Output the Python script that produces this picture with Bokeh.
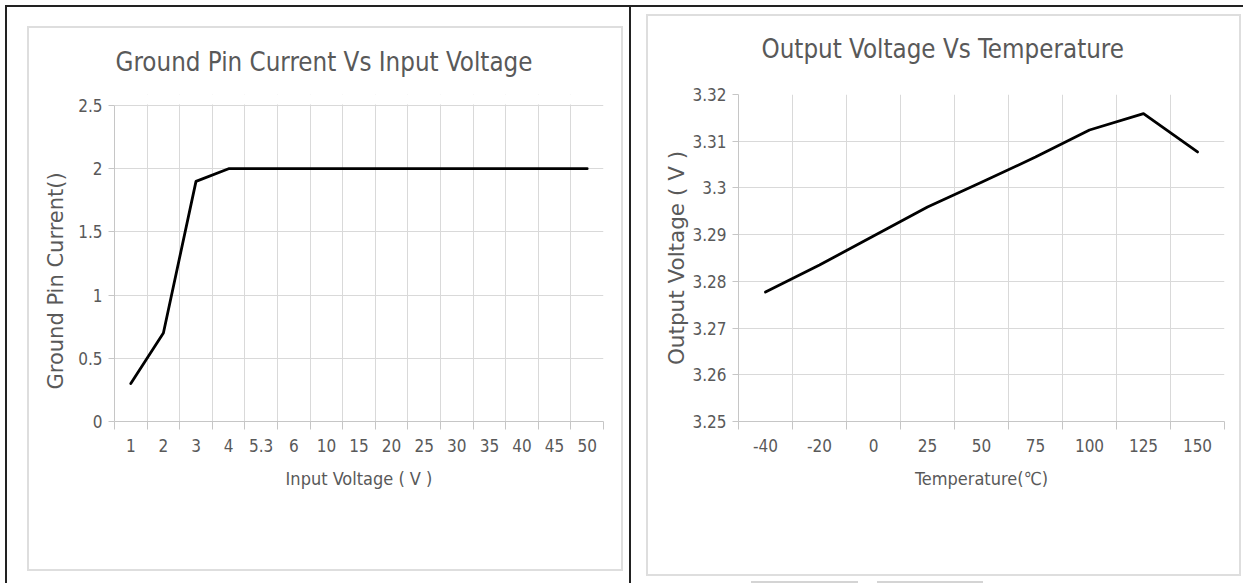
from bokeh.plotting import figure
from bokeh.models import (FactorRange, Range1d, LinearAxis, FixedTicker, Grid,
                          BoxAnnotation, Title)
from bokeh.layouts import row
from bokeh.embed import file_html
from bokeh.resources import INLINE

# ---------------- data ----------------
gpc_title = "Ground Pin Current Vs Input Voltage"
gpc_x_label = "Input Voltage ( V )"
gpc_y_label = "Ground Pin Current()"
input_voltage = ["1", "2", "3", "4", "5.3", "6", "10", "15", "20", "25",
                 "30", "35", "40", "45", "50"]
ground_pin_current = [0.3, 0.7, 1.9, 2.0, 2.0, 2.0, 2.0, 2.0, 2.0, 2.0,
                      2.0, 2.0, 2.0, 2.0, 2.0]
gpc_y_ticks = [0, 0.5, 1, 1.5, 2, 2.5]
gpc_y_tick_labels = ["0", "0.5", "1", "1.5", "2", "2.5"]

ov_title = "Output Voltage Vs Temperature"
ov_x_label = "Temperature(℃)"
ov_y_label = "Output Voltage ( V )"
temperature = ["-40", "-20", "0", "25", "50", "75", "100", "125", "150"]
output_voltage = [3.2777, 3.2835, 3.2897, 3.2959, 3.3012, 3.3066, 3.3124,
                  3.3159, 3.3077]
ov_y_ticks = [3.25, 3.26, 3.27, 3.28, 3.29, 3.30, 3.31, 3.32]
ov_y_tick_labels = ["3.25", "3.26", "3.27", "3.28", "3.29", "3.3", "3.31", "3.32"]

# ---------------- style ----------------
NARROW = "DejaVu Sans Condensed, Liberation Sans"
WIDE = "DejaVu Sans"
TXT = "#595959"
GRID = "#d9d9d9"
AXIS = "#c6c6c6"
BOX = "#dedede"
INK = "#222222"
HEIGHT = 583


def css_lines(lines):
    """CSS background layers drawing thin rules (page decoration)."""
    layers = []
    for (x, y, w, h, c) in lines:
        layers.append(f"linear-gradient({c},{c}) {x}px {y}px / {w}px {h}px no-repeat")
    return ", ".join(layers)


def make_chart(title, xlabel, ylabel, cats, vals, yticks, ylabels, width,
               frame_box, y_top, title_offset, title_standoff,
               ylabel_mode, deco):
    left, right, top, bottom = frame_box
    p = figure(width=width, height=HEIGHT,
               x_range=FactorRange(*cats),
               y_range=Range1d(yticks[0], y_top),
               x_axis_type=None,
               output_backend="svg", toolbar_location=None,
               min_border_left=left, min_border_right=right,
               min_border_top=top, min_border_bottom=bottom,
               styles={"background": css_lines(deco)})
    p.outline_line_color = None
    p.background_fill_color = "white"
    p.border_fill_alpha = 0

    # title
    p.add_layout(Title(text=title, align="left", offset=title_offset,
                       standoff=title_standoff,
                       text_font=NARROW, text_font_size="25.7px",
                       text_font_style="normal", text_color=TXT), "above")

    # y axis
    ya = p.yaxis[0]
    ya.ticker = FixedTicker(ticks=yticks)
    ya.bounds = (yticks[0], yticks[-1])
    ya.major_label_overrides = dict(zip(yticks, ylabels))
    ya.minor_tick_line_color = None
    ya.major_tick_in = 0
    ya.major_tick_out = 6
    ya.major_tick_line_color = AXIS
    ya.axis_line_color = AXIS
    ya.major_label_standoff = 6
    ya.major_label_text_font = NARROW
    ya.major_label_text_font_size = "17px"
    ya.major_label_text_color = TXT
    kind, a, b = ylabel_mode
    if kind == "axis":
        ya.axis_label = ylabel
        ya.axis_label_text_font = WIDE
        ya.axis_label_text_font_size = "21.5px"
        ya.axis_label_text_font_style = "normal"
        ya.axis_label_text_color = TXT
        ya.axis_label_standoff = a
    else:
        # vertical title placed along the y axis (lower than the frame centre)
        p.add_layout(Title(text=ylabel, align="left", offset=a, standoff=b,
                           text_font=WIDE, text_font_size="21px",
                           text_font_style="normal", text_color=TXT), "left")
    p.ygrid[0].ticker = FixedTicker(ticks=yticks)
    p.ygrid[0].grid_line_color = GRID

    # x axis: labels at category centres, ticks/grid at category boundaries
    n = len(cats)
    centers = [i + 0.5 for i in range(n)]
    bounds = [float(i) for i in range(n + 1)]
    xa = LinearAxis(ticker=FixedTicker(ticks=centers, minor_ticks=bounds),
                    major_label_overrides=dict(zip(centers, cats)),
                    major_tick_out=0, major_tick_in=0,
                    minor_tick_out=8, minor_tick_in=0,
                    minor_tick_line_color=AXIS, axis_line_color=AXIS,
                    major_label_standoff=9,
                    major_label_text_font=NARROW,
                    major_label_text_font_size="17px",
                    major_label_text_color=TXT,
                    axis_label=xlabel,
                    axis_label_text_font=NARROW,
                    axis_label_text_font_size="18px",
                    axis_label_text_font_style="normal",
                    axis_label_text_color=TXT,
                    axis_label_standoff=13)
    p.add_layout(xa, "below")
    p.add_layout(Grid(dimension=0, ticker=FixedTicker(ticks=bounds),
                      grid_line_color=GRID))

    # keep the plot area empty above the top tick
    if y_top > yticks[-1]:
        p.add_layout(BoxAnnotation(bottom=yticks[-1] + (y_top - yticks[-1]) * 0.1,
                                   fill_color="white", fill_alpha=1,
                                   line_alpha=0))

    # data line
    p.line(x=cats, y=vals, line_color="black", line_width=2.8,
           line_join="round", line_cap="round")
    return p


# left: 630 px wide, plot area 114..603 x 105..421 (page px)
p1 = make_chart(gpc_title, gpc_x_label, gpc_y_label, input_voltage,
                ground_pin_current, gpc_y_ticks, gpc_y_tick_labels, 630,
                frame_box=(114, 27, 94, 162),
                y_top=2.5 * (421 - 94) / (421 - 105),
                title_offset=1, title_standoff=36,
                ylabel_mode=("title", 32, 15),
                deco=[(5, 5, 625, 2, INK), (5, 5, 2, 578, INK),
                      (629, 5, 1, 578, INK),
                      (27, 26, 595, 2, BOX), (27, 569, 595, 2, BOX),
                      (27, 26, 2, 545, BOX), (621, 26, 2, 545, BOX)])

# right: 613 px wide, plot area 738..1224 x 94..421 (page px)
p2 = make_chart(ov_title, ov_x_label, ov_y_label, temperature,
                output_voltage, ov_y_ticks, ov_y_tick_labels, 613,
                frame_box=(108, 19, 94, 162),
                y_top=ov_y_ticks[-1],
                title_offset=23, title_standoff=62,
                ylabel_mode=("axis", 0, 0),
                deco=[(0, 5, 613, 2, INK), (0, 5, 1, 578, INK),
                      (16, 14, 594, 2, BOX), (16, 574, 594, 2, BOX),
                      (16, 14, 2, 562, BOX), (609, 14, 2, 562, BOX),
                      (121, 581, 107, 2, "#d4d4d4"),
                      (247, 581, 106, 2, "#d4d4d4")])

layout = row(p1, p2, spacing=0)
open("out.html", "w").write(file_html(layout, INLINE))
